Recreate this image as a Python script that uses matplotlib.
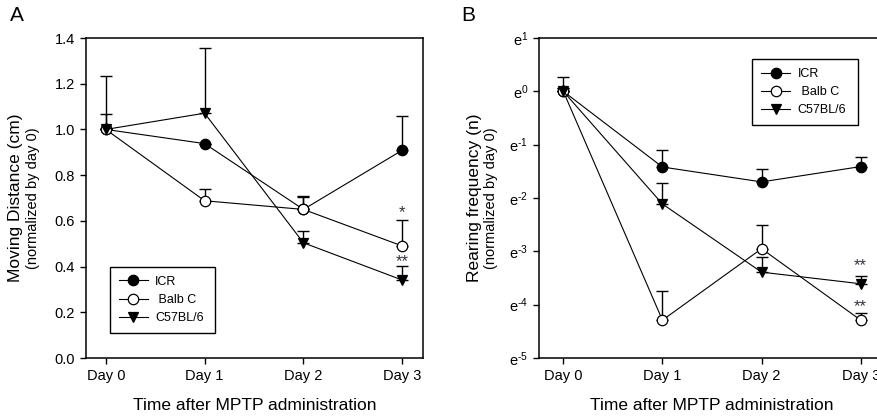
import numpy as np
import matplotlib
matplotlib.use("Agg")
import matplotlib.pyplot as plt
from matplotlib.ticker import FixedLocator, NullLocator

plt.rcParams['font.family'] = ['Liberation Sans', 'DejaVu Sans']
plt.rcParams['mathtext.fontset'] = 'custom'
plt.rcParams['mathtext.rm'] = 'Liberation Sans'

days = ["Day 0", "Day 1", "Day 2", "Day 3"]
strains = ["ICR", " Balb C", "C57BL/6"]

# Panel A: moving distance (normalized by day 0)
dist_icr = [1.00, 0.938, 0.650, 0.909]
dist_icr_err = [0.235, 0.0, 0.059, 0.149]
dist_balb = [1.00, 0.688, 0.650, 0.490]
dist_balb_err = [0.067, 0.050, 0.054, 0.115]
dist_c57 = [1.00, 1.071, 0.504, 0.341]
dist_c57_err = [0.0, 0.284, 0.050, 0.062]

# Panel B: rearing frequency (normalized by day 0), plotted on a base-e log axis
rear_icr = [1.00, 0.242, 0.183, 0.244]
rear_icr_err = [0.31, 0.091, 0.052, 0.050]
rear_balb = [1.00, 0.0137, 0.0523, 0.0137]
rear_balb_err = [0.073, 0.0098, 0.029, 0.0019]
rear_c57 = [1.00, 0.121, 0.0337, 0.0271]
rear_c57_err = [0.073, 0.058, 0.0109, 0.0040]

fig = plt.figure(figsize=(8.77, 4.17), dpi=100)
W, H = 877.0, 417.0
axA = fig.add_axes([86 / W, 1 - 358 / H, 337 / W, 320 / H])
axB = fig.add_axes([539.3 / W, 1 - 358 / H, 345.4 / W, 320 / H])

x = np.arange(len(days))
styles = [dict(marker='o', mfc='black', mec='black'),
          dict(marker='o', mfc='white', mec='black'),
          dict(marker='v', mfc='black', mec='black')]


def draw(ax, series, errs):
    handles = []
    for vals, err, st, lab in zip(series, errs, styles, strains):
        ax.errorbar(x, vals, yerr=[np.zeros(len(err)), err], fmt='none',
                    ecolor='black', elinewidth=1.0, capsize=4, capthick=1.0, zorder=2)
        h, = ax.plot(x, vals, color='black', lw=0.8, ms=7.5, mew=0.9,
                     label=lab, zorder=3, **st)
        handles.append(h)
    for side in ['top', 'right', 'left', 'bottom']:
        ax.spines[side].set_linewidth(1.1)
    ax.tick_params(direction='out', length=4, width=1, labelsize=10.5, pad=4,
                   top=False, right=False)
    ax.set_xticks(x)
    ax.set_xticklabels(days)
    ax.set_xlabel("Time after MPTP administration", fontsize=12.5, labelpad=11)
    return handles


def add_legend(ax, handles, anchor, loc):
    leg = ax.legend(handles=handles, loc=loc, bbox_to_anchor=anchor, mode='expand',
                    borderaxespad=0, fontsize=9, frameon=True, fancybox=False,
                    edgecolor='black', framealpha=1, handlelength=2.3,
                    handletextpad=0.6, labelspacing=0.49, borderpad=0.72)
    leg.get_frame().set_linewidth(1.0)


hA = draw(axA, [dist_icr, dist_balb, dist_c57], [dist_icr_err, dist_balb_err, dist_c57_err])
axA.set_xlim(-0.2, 3.21)
axA.set_ylim(0, 1.4)
axA.set_yticks(np.arange(0, 1.41, 0.2))
axA.set_yticklabels([f"{v:.1f}" for v in np.arange(0, 1.41, 0.2)])
add_legend(axA, hA, (0.071, 0.078, 0.312, 0), 'lower left')

hB = draw(axB, [rear_icr, rear_balb, rear_c57], [rear_icr_err, rear_balb_err, rear_c57_err])
axB.set_yscale('log', base=np.e)
axB.set_xlim(-0.242, 3.242)
axB.set_ylim(np.e ** -5, np.e ** 1)
exps = np.arange(-5, 2)
axB.yaxis.set_major_locator(FixedLocator(np.e ** exps.astype(float)))
axB.yaxis.set_minor_locator(NullLocator())
axB.set_yticklabels([r"$\mathregular{e^{\text{%d}}}$" % k for k in exps])
add_legend(axB, hB, (0.617, 0.934, 0.305, 0), 'upper left')

# significance marks
star_kw = dict(textcoords='offset points', ha='center', va='center',
               fontsize=12, color='#333344')
axA.annotate("*", (3, dist_balb[3] + dist_balb_err[3]), xytext=(0, 5), **star_kw)
axA.annotate("**", (3, dist_c57[3] + dist_c57_err[3]), xytext=(0, 3), **star_kw)
axB.annotate("**", (3, rear_c57[3] + rear_c57_err[3]), xytext=(0, 8), **star_kw)
axB.annotate("**", (3, rear_balb[3] + rear_balb_err[3]), xytext=(0, 5), **star_kw)

# y labels (two lines, different sizes)
yc = 1 - 198 / H
fig.text(16 / W, yc, "Moving Distance (cm)", rotation=90, ha='center', va='center', fontsize=12.5)
fig.text(33 / W, yc, "(normalized by day 0)", rotation=90, ha='center', va='center', fontsize=10.5)
fig.text(475 / W, yc, "Rearing frequency (n)", rotation=90, ha='center', va='center', fontsize=12.5)
fig.text(491 / W, yc, "(normalized by day 0)", rotation=90, ha='center', va='center', fontsize=10.5)

# panel letters
fig.text(10 / W, 1 - 21 / H, "A", fontsize=15, ha='left', va='baseline')
fig.text(461 / W, 1 - 21 / H, "B", fontsize=15, ha='left', va='baseline')

fig.savefig("out.png", dpi=100)
